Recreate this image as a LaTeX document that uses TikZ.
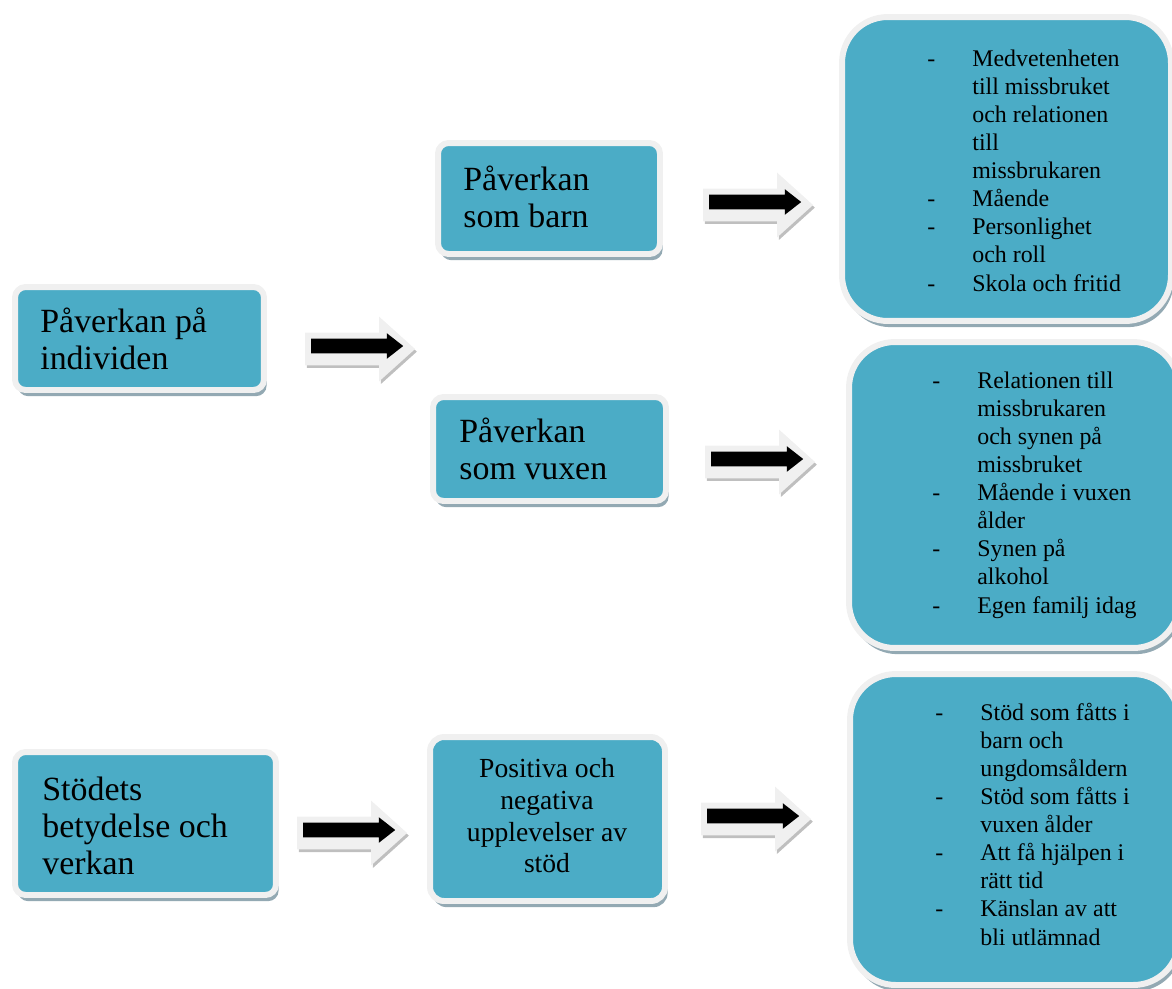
\documentclass[tikz,border=0pt]{standalone}
\usepackage{fontspec}
\setmainfont{Liberation Serif}
\usepackage{xcolor}
\definecolor{Aqua}{HTML}{4BACC6}
\definecolor{Rim}{HTML}{F0F0F0}
\definecolor{Slate}{HTML}{93A9B3}
\colorlet{cTile}{Aqua}
\colorlet{cShade}{Slate}
\usepackage{tikz}
\usetikzlibrary{shapes.arrows, shadows, positioning}
\tikzset{
	tile/.style={
		draw=Rim,
		fill=cTile,
		line width=3.4pt,
		rounded corners=6pt,
		inner sep=0pt,
		drop shadow={shadow xshift=1.5pt, shadow yshift=-3.5pt, fill=cShade, opacity=1}
	},
	bigtile/.style={
		tile,
		rounded corners=26pt
	},
	bigtext/.style={
		inner sep=0pt,
		anchor=west,
		font=\fontsize{19.3}{21}\selectfont
	},
	midtext/.style={
		inner sep=0pt,
		font=\fontsize{15.7}{18}\selectfont
	},
	listtext/.style={
		inner sep=0pt,
		anchor=west,
		font=\fontsize{13.6}{16}\selectfont
	},
	arrowbg/.style={
		single arrow,
		fill=Rim,
		inner xsep=0pt,
		inner ysep=0.32cm,
		minimum width=1.28cm,
		minimum height=2.2cm,
		single arrow head extend=0.32cm,
		single arrow tip angle=84,
		drop shadow={shadow xshift=1pt, shadow yshift=-1.5pt, fill=black!25, opacity=1}
	},
	arrowfg/.style={
		single arrow,
		fill=black,
		inner xsep=0pt,
		inner ysep=0.14cm,
		minimum width=0.5cm,
		minimum height=1.84cm,
		single arrow head extend=0.11cm,
		single arrow tip angle=76
	}
}
\newcommand{\dashlist}[1]{\begin{tabular}{@{}p{0.9cm}@{}l@{}}#1\end{tabular}}

\begin{document}
\begin{tikzpicture}[x=0.02cm, y=-0.02cm]
	\useasboundingbox (0,0) rectangle (1172,988);

	% left column
	\node[tile, minimum width=4.98cm, minimum height=2.06cm] (ind) at (139.5,338.5) {};
	\node[tile, minimum width=5.22cm, minimum height=2.86cm] (stod) at (145.5,823.5) {};
	\node[bigtext] (indText) at (40,344) {\begin{tabular}{@{}l@{}}Påverkan på\\individen\end{tabular}};
	\node[bigtext] (stodText) at (42,830) {\begin{tabular}{@{}l@{}}Stödets\\betydelse och\\verkan\end{tabular}};

	% middle column
	\node[tile, minimum width=4.44cm, minimum height=2.22cm] (barn) at (549,198.5) {};
	\node[tile, minimum width=4.66cm, minimum height=2.08cm] (vuxen) at (549.5,449) {};
	\node[tile, rounded corners=8pt, minimum width=4.70cm, minimum height=3.28cm] (upp) at (547.5,819) {};
	\node[bigtext] (barnText) at (463,202) {\begin{tabular}{@{}l@{}}Påverkan\\som barn\end{tabular}};
	\node[bigtext] (vuxenText) at (459,454) {\begin{tabular}{@{}l@{}}Påverkan\\som vuxen\end{tabular}};
	\node[midtext] (uppText) at (547,819) {\begin{tabular}{@{}c@{}}Positiva och\\negativa\\upplevelser av\\stöd\end{tabular}};

	% right column
	\node[bigtile, minimum width=6.58cm, minimum height=6.08cm] (listBarn) at (1006.5,169) {};
	\node[bigtile, minimum width=6.60cm, minimum height=6.12cm] (listVuxen) at (1014,495) {};
	\node[bigtile, minimum width=6.58cm, minimum height=6.22cm] (listStod) at (1014.5,829.5) {};
	\node[listtext] (listBarnText) at (927,173) {\dashlist{
		-&Medvetenheten\\ &till missbruket\\ &och relationen\\ &till\\ &missbrukaren\\
		-&Mående\\ -&Personlighet\\ &och roll\\ -&Skola och fritid}};
	\node[listtext] (listVuxenText) at (932,495) {\dashlist{
		-&Relationen till\\ &missbrukaren\\ &och synen på\\ &missbruket\\
		-&Mående i vuxen\\ &ålder\\ -&Synen på\\ &alkohol\\ -&Egen familj idag}};
	\node[listtext] (listStodText) at (935,827) {\dashlist{
		-&Stöd som fåtts i\\ &barn och\\ &ungdomsåldern\\ -&Stöd som fåtts i\\ &vuxen ålder\\
		-&Att få hjälpen i\\ &rätt tid\\ -&Känslan av att\\ &bli utlämnad}};

	% block arrows (x = middle of the black arrow)
	\foreach \n/\x/\y in {a1/358/346, a2/756/202, a3/758/459, a4/350/830, a5/754/816}{
		\node[arrowbg] (\n bg) at (\x-7,\y+3) {};
		\node[arrowfg] (\n) at (\x-5.5,\y) {};
	}
\end{tikzpicture}
\end{document}
